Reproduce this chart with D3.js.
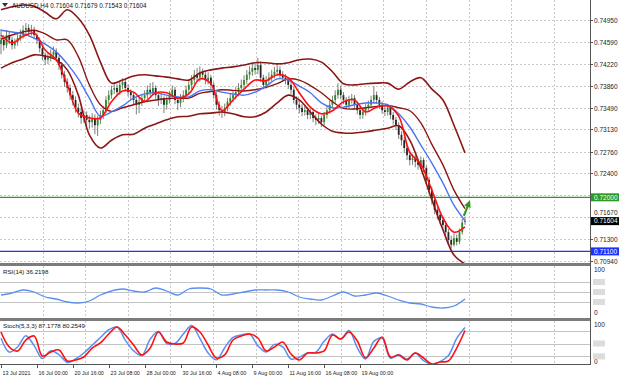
<!DOCTYPE html>
<html>
<head>
<meta charset="utf-8">
<script src="https://cdn.jsdelivr.net/npm/d3@7"></script>
<style>
  body { margin: 0; background: #fff; }
  svg { display: block; }
  text { font-family: "Liberation Sans", Arial, sans-serif; }
</style>
</head>
<body>
<svg id="chart" width="620" height="382"></svg>
<script>
// AUDUSD H4 candles (one entry per bar)
const opens = [
  0.7455, 0.7462, 0.7453, 0.7470, 0.7462, 0.7453, 0.7458, 0.7465, 0.7470, 0.7478,
  0.7482, 0.7475, 0.7478, 0.7470, 0.7462, 0.7448, 0.7437, 0.7429, 0.7432, 0.7437,
  0.7442, 0.7432, 0.7420, 0.7404, 0.7392, 0.7382, 0.7370, 0.7362, 0.7349, 0.7342,
  0.7332, 0.7337, 0.7329, 0.7325, 0.7332, 0.7320, 0.7329, 0.7337, 0.7345, 0.7362,
  0.7370, 0.7379, 0.7382, 0.7375, 0.7387, 0.7392, 0.7382, 0.7375, 0.7370, 0.7362,
  0.7354, 0.7359, 0.7365, 0.7370, 0.7379, 0.7375, 0.7382, 0.7370, 0.7362, 0.7365,
  0.7354, 0.7362, 0.7370, 0.7379, 0.7362, 0.7357, 0.7365, 0.7370, 0.7379, 0.7387,
  0.7395, 0.7404, 0.7399, 0.7409, 0.7404, 0.7395, 0.7399, 0.7387, 0.7370, 0.7354,
  0.7345, 0.7342, 0.7349, 0.7359, 0.7365, 0.7370, 0.7375, 0.7382, 0.7387, 0.7395,
  0.7404, 0.7409, 0.7415, 0.7412, 0.7420, 0.7399, 0.7387, 0.7395, 0.7399, 0.7404,
  0.7409, 0.7412, 0.7404, 0.7399, 0.7395, 0.7387, 0.7379, 0.7362, 0.7354, 0.7349,
  0.7342, 0.7345, 0.7337, 0.7342, 0.7332, 0.7329, 0.7332, 0.7325, 0.7337, 0.7345,
  0.7354, 0.7362, 0.7370, 0.7379, 0.7370, 0.7362, 0.7354, 0.7362, 0.7365, 0.7354,
  0.7345, 0.7337, 0.7342, 0.7349, 0.7354, 0.7362, 0.7370, 0.7362, 0.7354, 0.7345,
  0.7342, 0.7349, 0.7337, 0.7329, 0.7320, 0.7304, 0.7295, 0.7282, 0.7270, 0.7262,
  0.7265, 0.7259, 0.7254, 0.7262, 0.7249, 0.7229, 0.7212, 0.7196, 0.7179, 0.7171,
  0.7162, 0.7154, 0.7142, 0.7129, 0.7121, 0.7132, 0.7126, 0.7142, 0.71604
];
const highs = [
  0.7480, 0.7470, 0.7478, 0.7476, 0.7467, 0.7464, 0.7472, 0.7479, 0.7486, 0.7490,
  0.7488, 0.7487, 0.7484, 0.7474, 0.7466, 0.7452, 0.7441, 0.7440, 0.7446, 0.7451,
  0.7448, 0.7436, 0.7425, 0.7410, 0.7398, 0.7388, 0.7377, 0.7368, 0.7356, 0.7348,
  0.7345, 0.7343, 0.7336, 0.7340, 0.7338, 0.7336, 0.7344, 0.7352, 0.7368, 0.7378,
  0.7386, 0.7390, 0.7388, 0.7394, 0.7398, 0.7396, 0.7388, 0.7380, 0.7374, 0.7366,
  0.7365, 0.7372, 0.7378, 0.7386, 0.7390, 0.7392, 0.7386, 0.7374, 0.7372, 0.7368,
  0.7368, 0.7377, 0.7386, 0.7384, 0.7368, 0.7372, 0.7378, 0.7386, 0.7394, 0.7403,
  0.7412, 0.7415, 0.7418, 0.7414, 0.7410, 0.7408, 0.7404, 0.7392, 0.7375, 0.7360,
  0.7352, 0.7356, 0.7365, 0.7372, 0.7378, 0.7384, 0.7390, 0.7396, 0.7403, 0.7412,
  0.7418, 0.7425, 0.7422, 0.7432, 0.7426, 0.7404, 0.7402, 0.7408, 0.7412, 0.7417,
  0.7420, 0.7418, 0.7410, 0.7405, 0.7400, 0.7392, 0.7384, 0.7368, 0.7360, 0.7355,
  0.7352, 0.7350, 0.7348, 0.7346, 0.7338, 0.7339, 0.7336, 0.7342, 0.7352, 0.7361,
  0.7369, 0.7378, 0.7390, 0.7386, 0.7375, 0.7367, 0.7369, 0.7372, 0.7370, 0.7359,
  0.7350, 0.7348, 0.7355, 0.7361, 0.7369, 0.7385, 0.7376, 0.7367, 0.7359, 0.7351,
  0.7355, 0.7353, 0.7342, 0.7334, 0.7325, 0.7310, 0.7300, 0.7287, 0.7276, 0.7272,
  0.7270, 0.7264, 0.7268, 0.7266, 0.7253, 0.7234, 0.7218, 0.7202, 0.7186, 0.7176,
  0.7168, 0.7160, 0.7147, 0.7136, 0.7140, 0.7138, 0.7148, 0.7164, 0.71679
];
const lows = [
  0.7438, 0.7444, 0.7448, 0.7455, 0.7446, 0.7447, 0.7452, 0.7460, 0.7464, 0.7471,
  0.7468, 0.7469, 0.7463, 0.7455, 0.7441, 0.7428, 0.7420, 0.7422, 0.7426, 0.7431,
  0.7426, 0.7412, 0.7398, 0.7384, 0.7374, 0.7362, 0.7353, 0.7341, 0.7333, 0.7322,
  0.7324, 0.7318, 0.7314, 0.7316, 0.7305, 0.7302, 0.7322, 0.7330, 0.7340, 0.7355,
  0.7364, 0.7372, 0.7368, 0.7370, 0.7380, 0.7376, 0.7368, 0.7362, 0.7355, 0.7338,
  0.7340, 0.7352, 0.7358, 0.7364, 0.7369, 0.7370, 0.7364, 0.7352, 0.7355, 0.7340,
  0.7346, 0.7356, 0.7364, 0.7355, 0.7345, 0.7350, 0.7358, 0.7364, 0.7372, 0.7380,
  0.7388, 0.7393, 0.7392, 0.7396, 0.7388, 0.7388, 0.7380, 0.7364, 0.7346, 0.7336,
  0.7332, 0.7335, 0.7343, 0.7352, 0.7358, 0.7363, 0.7368, 0.7375, 0.7380, 0.7388,
  0.7396, 0.7402, 0.7404, 0.7405, 0.7392, 0.7380, 0.7381, 0.7388, 0.7393, 0.7398,
  0.7402, 0.7398, 0.7392, 0.7388, 0.7380, 0.7372, 0.7356, 0.7346, 0.7340, 0.7335,
  0.7336, 0.7330, 0.7330, 0.7325, 0.7320, 0.7322, 0.7317, 0.7320, 0.7331, 0.7340,
  0.7348, 0.7356, 0.7364, 0.7363, 0.7355, 0.7347, 0.7348, 0.7356, 0.7348, 0.7338,
  0.7330, 0.7331, 0.7336, 0.7343, 0.7348, 0.7356, 0.7356, 0.7347, 0.7339, 0.7335,
  0.7336, 0.7330, 0.7321, 0.7312, 0.7297, 0.7286, 0.7274, 0.7262, 0.7253, 0.7254,
  0.7250, 0.7246, 0.7248, 0.7242, 0.7222, 0.7205, 0.7188, 0.7172, 0.7163, 0.7155,
  0.7146, 0.7135, 0.7122, 0.7115, 0.7118, 0.7120, 0.7122, 0.7138, 0.71543
];
const closes = [
  0.7462, 0.7453, 0.7470, 0.7462, 0.7453, 0.7458, 0.7465, 0.7470, 0.7478, 0.7482,
  0.7475, 0.7478, 0.7470, 0.7462, 0.7448, 0.7437, 0.7429, 0.7432, 0.7437, 0.7442,
  0.7432, 0.7420, 0.7404, 0.7392, 0.7382, 0.7370, 0.7362, 0.7349, 0.7342, 0.7332,
  0.7337, 0.7329, 0.7325, 0.7332, 0.7320, 0.7329, 0.7337, 0.7345, 0.7362, 0.7370,
  0.7379, 0.7382, 0.7375, 0.7387, 0.7392, 0.7382, 0.7375, 0.7370, 0.7362, 0.7354,
  0.7359, 0.7365, 0.7370, 0.7379, 0.7375, 0.7382, 0.7370, 0.7362, 0.7365, 0.7354,
  0.7362, 0.7370, 0.7379, 0.7362, 0.7357, 0.7365, 0.7370, 0.7379, 0.7387, 0.7395,
  0.7404, 0.7399, 0.7409, 0.7404, 0.7395, 0.7399, 0.7387, 0.7370, 0.7354, 0.7345,
  0.7342, 0.7349, 0.7359, 0.7365, 0.7370, 0.7375, 0.7382, 0.7387, 0.7395, 0.7404,
  0.7409, 0.7415, 0.7412, 0.7420, 0.7399, 0.7387, 0.7395, 0.7399, 0.7404, 0.7409,
  0.7412, 0.7404, 0.7399, 0.7395, 0.7387, 0.7379, 0.7362, 0.7354, 0.7349, 0.7342,
  0.7345, 0.7337, 0.7342, 0.7332, 0.7329, 0.7332, 0.7325, 0.7337, 0.7345, 0.7354,
  0.7362, 0.7370, 0.7379, 0.7370, 0.7362, 0.7354, 0.7362, 0.7365, 0.7354, 0.7345,
  0.7337, 0.7342, 0.7349, 0.7354, 0.7362, 0.7370, 0.7362, 0.7354, 0.7345, 0.7342,
  0.7349, 0.7337, 0.7329, 0.7320, 0.7304, 0.7295, 0.7282, 0.7270, 0.7262, 0.7265,
  0.7259, 0.7254, 0.7262, 0.7249, 0.7229, 0.7212, 0.7196, 0.7179, 0.7171, 0.7162,
  0.7154, 0.7142, 0.7129, 0.7121, 0.7132, 0.7126, 0.7142, 0.7158, 0.71604
];

// indicator lines, one value every LINE_STEP bars
const LINE_STEP = 4;
const bbUpper = [
  0.7512, 0.7517, 0.7520, 0.7518, 0.7508, 0.7497, 0.7512, 0.7498, 0.7470, 0.7425,
  0.7390, 0.7395, 0.7402, 0.7404, 0.7402, 0.7400, 0.7397, 0.7395, 0.7407, 0.7412,
  0.7415, 0.7417, 0.7420, 0.7424, 0.7424, 0.7422, 0.7424, 0.7429, 0.7430, 0.7425,
  0.7409, 0.7389, 0.7387, 0.7389, 0.7390, 0.7390, 0.7380, 0.7392, 0.7399, 0.7380,
  0.7362, 0.7320, 0.7274
];
const bbMiddle = [
  0.7463, 0.7470, 0.7475, 0.7478, 0.7472, 0.7462, 0.7462, 0.7434, 0.7387, 0.7354,
  0.7343, 0.7349, 0.7354, 0.7359, 0.7362, 0.7364, 0.7365, 0.7365, 0.7373, 0.7376,
  0.7379, 0.7378, 0.7377, 0.7379, 0.7383, 0.7389, 0.7397, 0.7395, 0.7386, 0.7374,
  0.7359, 0.7348, 0.7347, 0.7349, 0.7351, 0.7353, 0.7349, 0.7344, 0.7324, 0.7288,
  0.7254, 0.7212, 0.7181
];
const bbLower = [
  0.7415, 0.7424, 0.7430, 0.7437, 0.7435, 0.7429, 0.7412, 0.7370, 0.7304, 0.7282,
  0.7295, 0.7304, 0.7305, 0.7315, 0.7322, 0.7329, 0.7334, 0.7335, 0.7339, 0.7340,
  0.7342, 0.7339, 0.7334, 0.7334, 0.7342, 0.7357, 0.7370, 0.7362, 0.7342, 0.7322,
  0.7310, 0.7307, 0.7307, 0.7309, 0.7312, 0.7315, 0.7319, 0.7295, 0.7249, 0.7196,
  0.7146, 0.7104, 0.7089
];
const maBlue = [
  0.7478, 0.7475, 0.7472, 0.7465, 0.7455, 0.7442, 0.7422, 0.7397, 0.7365, 0.7335,
  0.7342, 0.7352, 0.7365, 0.7372, 0.7374, 0.7370, 0.7367, 0.7367, 0.7377, 0.7379,
  0.7375, 0.7372, 0.7370, 0.7375, 0.7385, 0.7397, 0.7395, 0.7385, 0.7374, 0.7357,
  0.7349, 0.7350, 0.7354, 0.7357, 0.7357, 0.7354, 0.7339, 0.7317, 0.7287, 0.7257,
  0.7224, 0.7187, 0.7161
];
const maRed = [
  0.7470, 0.7457, 0.7468, 0.7473, 0.7445, 0.7429, 0.7387, 0.7340, 0.7332, 0.7332,
  0.7359, 0.7377, 0.7375, 0.7360, 0.7374, 0.7374, 0.7365, 0.7372, 0.7397, 0.7389,
  0.7344, 0.7362, 0.7380, 0.7395, 0.7394, 0.7404, 0.7399, 0.7374, 0.7350, 0.7339,
  0.7344, 0.7359, 0.7362, 0.7342, 0.7350, 0.7352, 0.7335, 0.7275, 0.7255, 0.7212,
  0.7166, 0.7142, 0.7151
];
const rsi = [
  44, 48, 54, 50, 40, 36, 30, 28, 32, 44,
  52, 56, 52, 50, 58, 52, 44, 56, 58, 56,
  44, 46, 50, 54, 54, 54, 50, 40, 36, 34,
  42, 50, 42, 44, 48, 42, 34, 28, 26, 20,
  18, 22, 36.22
];

// stochastic, one value every STOCH_STEP bars
const STOCH_STEP = 3;
const stochMain = [
  62, 30, 42, 68, 45, 15, 33, 24, 6, 14,
  28, 46, 64, 82, 88, 58, 33, 22, 60, 78,
  50, 50, 72, 92, 62, 28, 12, 40, 64, 70,
  72, 45, 30, 48, 42, 14, 18, 28, 30, 55,
  72, 60, 80, 40, 14, 55, 62, 16, 24, 14,
  28, 10, 2, 8, 22, 62, 87.18
];
const stochSignal = [
  76.7, 41.9, 32.6, 58.1, 67.4, 20.9, 30.2, 34.9, 9.3, 11.6,
  18.6, 39.5, 51.2, 72.1, 88.4, 69.8, 46.5, 23.3, 39.5, 76.7,
  53.5, 48.8, 51.2, 88.4, 76.7, 46.5, 16.3, 23.3, 58.1, 67.4,
  72.1, 62.8, 32.6, 41.9, 53.5, 25.6, 11.6, 27.9, 27.9, 32.6,
  69.8, 60.5, 76.7, 55.8, 16.3, 39.5, 65.1, 18.6, 23.3, 11.6,
  27.9, 16.3, 2.0, 7.0, 9.3, 39.5, 80.25
];

const priceTicks = [0.7495, 0.7459, 0.7422, 0.7386, 0.7349, 0.7313, 0.7276, 0.7240, 0.7204, 0.7167, 0.7130, 0.7094];
const timeLabels = ["13 Jul 2021", "16 Jul 00:00", "20 Jul 16:00", "23 Jul 08:00", "28 Jul 00:00",
                    "30 Jul 16:00", "4 Aug 08:00", "9 Aug 00:00", "11 Aug 16:00", "16 Aug 08:00", "19 Aug 00:00"];
const TIME_LABEL_STEP = 13;   // bars between time labels
const rsiLevels = [70, 50, 30];
const stochLevels = [80, 50, 20];
const hLevels = [
  { price: 0.72000, color: "#2f9a22", label: "0.72000" },
  { price: 0.71100, color: "#1f2fff", label: "0.71100" }
];
const lastPrice = 0.71604;
const arrow = { from: [167.6, 0.7169], to: [169.8, 0.7195] };

// ---- layout ----
const svg = d3.select("#chart");
const AXIS_X = 590;
const MAIN = { top: 0, bottom: 263 };
const RSI_P = { top: 266, bottom: 318 };
const STO_P = { top: 321, bottom: 364 };

const x = d3.scaleLinear().domain([0, closes.length - 1]).range([1, 465]);
const y = d3.scaleLinear().domain([0.70907, 0.75283]).range([MAIN.bottom, MAIN.top]);
const yRsi = d3.scaleLinear().domain([0, 100]).range([317, 267]);
const ySto = d3.scaleLinear().domain([0, 100]).range([365, 322]);

const defs = svg.append("defs");
function clip(id, p) {
  defs.append("clipPath").attr("id", id)
    .append("rect").attr("x", 0).attr("y", p.top).attr("width", AXIS_X).attr("height", p.bottom - p.top);
}
clip("clipMain", MAIN);
clip("clipRsi", RSI_P);
clip("clipSto", STO_P);

// ---- grid ----
const grid = svg.append("g").attr("stroke", "#c9c9c9").attr("stroke-dasharray", "2,2").attr("stroke-width", 1);
d3.range(42.6, AXIS_X, 42.6).forEach(gx => {
  [MAIN, RSI_P, STO_P].forEach(p => {
    grid.append("line").attr("x1", Math.round(gx) + 0.5).attr("x2", Math.round(gx) + 0.5)
      .attr("y1", p.top).attr("y2", p.bottom);
  });
});
priceTicks.forEach(t => {
  const gy = Math.round(y(t)) + 0.5;
  grid.append("line").attr("x1", 0).attr("x2", AXIS_X).attr("y1", gy).attr("y2", gy);
});

// indicator levels
rsiLevels.forEach(v => {
  svg.append("line").attr("x1", 0).attr("x2", AXIS_X)
    .attr("y1", Math.round(yRsi(v)) + 0.5).attr("y2", Math.round(yRsi(v)) + 0.5)
    .attr("stroke", "#c4c4c4");
});
stochLevels.forEach(v => {
  svg.append("line").attr("x1", 0).attr("x2", AXIS_X)
    .attr("y1", Math.round(ySto(v)) + 0.5).attr("y2", Math.round(ySto(v)) + 0.5)
    .attr("stroke", "#c4c4c4");
});

// ---- main panel ----
const main = svg.append("g").attr("clip-path", "url(#clipMain)");

// horizontal levels
hLevels.forEach(l => {
  main.append("line").attr("x1", 0).attr("x2", AXIS_X)
    .attr("y1", y(l.price)).attr("y2", y(l.price))
    .attr("stroke", l.color).attr("stroke-width", 1.3);
});

// candles
const candles = main.append("g");
closes.forEach((c, i) => {
  const o = opens[i];
  const cx = x(i);
  candles.append("line").attr("x1", cx).attr("x2", cx)
    .attr("y1", y(highs[i])).attr("y2", y(lows[i]))
    .attr("stroke", "#6f6f6f").attr("stroke-width", 0.9);
  const top = y(Math.max(o, c)), bot = y(Math.min(o, c));
  candles.append("rect").attr("x", cx - 0.9).attr("width", 1.8)
    .attr("y", top).attr("height", Math.max(1, bot - top))
    .attr("fill", c >= o ? "#2d8a23" : "#262626");
});

function drawLine(g, values, step, yScale, color, width) {
  const line = d3.line()
    .x((d, i) => x(i * step))
    .y(d => yScale(d))
    .curve(d3.curveCatmullRom.alpha(0.5));
  g.append("path").datum(values)
    .attr("d", line).attr("fill", "none")
    .attr("stroke", color).attr("stroke-width", width)
    .attr("stroke-linejoin", "round");
}

drawLine(main, bbUpper, LINE_STEP, y, "#8c1616", 1.6);
drawLine(main, bbLower, LINE_STEP, y, "#8c1616", 1.6);
drawLine(main, bbMiddle, LINE_STEP, y, "#8c1616", 1.4);
drawLine(main, maBlue, LINE_STEP, y, "#4b74f0", 1.4);
drawLine(main, maRed, LINE_STEP, y, "#ff1010", 1.6);

// green arrow at the last bar
const ax1 = x(arrow.from[0]), ay1 = y(arrow.from[1]);
const ax2 = x(arrow.to[0]), ay2 = y(arrow.to[1]);
const ang = Math.atan2(ay2 - ay1, ax2 - ax1);
main.append("line").attr("x1", ax1).attr("y1", ay1)
  .attr("x2", ax2 - 4 * Math.cos(ang)).attr("y2", ay2 - 4 * Math.sin(ang))
  .attr("stroke", "#2f9a22").attr("stroke-width", 2.2);
const head = [[ax2, ay2],
  [ax2 - 7 * Math.cos(ang) + 3.5 * Math.sin(ang), ay2 - 7 * Math.sin(ang) - 3.5 * Math.cos(ang)],
  [ax2 - 7 * Math.cos(ang) - 3.5 * Math.sin(ang), ay2 - 7 * Math.sin(ang) + 3.5 * Math.cos(ang)]];
main.append("path").attr("d", "M" + head.join("L") + "Z").attr("fill", "#2f9a22");

// ---- RSI panel ----
const rsiG = svg.append("g").attr("clip-path", "url(#clipRsi)");
drawLine(rsiG, rsi, LINE_STEP, yRsi, "#5a8ff2", 1.3);

// ---- Stochastic panel ----
const stoG = svg.append("g").attr("clip-path", "url(#clipSto)");
drawLine(stoG, stochMain, STOCH_STEP, ySto, "#5a8ff2", 1.5);
drawLine(stoG, stochSignal, STOCH_STEP, ySto, "#ff1010", 1.6);

// ---- frames and separators ----
svg.append("rect").attr("x", 0).attr("y", MAIN.bottom).attr("width", AXIS_X).attr("height", RSI_P.top - MAIN.bottom).attr("fill", "#7c7c7c");
svg.append("rect").attr("x", 0).attr("y", RSI_P.bottom).attr("width", AXIS_X).attr("height", STO_P.top - RSI_P.bottom).attr("fill", "#7c7c7c");
svg.append("line").attr("x1", 0).attr("x2", AXIS_X + 0.5).attr("y1", STO_P.bottom + 0.5).attr("y2", STO_P.bottom + 0.5).attr("stroke", "#555");
svg.append("line").attr("x1", AXIS_X + 0.5).attr("x2", AXIS_X + 0.5).attr("y1", 0).attr("y2", STO_P.bottom + 1).attr("stroke", "#555");

// ---- price axis ----
const tagYs = hLevels.map(l => y(l.price)).concat([y(lastPrice)]);
const axisG = svg.append("g").attr("font-size", 6.5).attr("fill", "#222");
priceTicks.forEach(t => {
  const ty = Math.round(y(t)) + 0.5;
  axisG.append("line").attr("x1", AXIS_X).attr("x2", AXIS_X + 3).attr("y1", ty).attr("y2", ty).attr("stroke", "#555");
  // labels sitting under a price tag are hidden, near ones are pushed clear of it
  const near = tagYs.find(g => Math.abs(g - ty) < 8);
  if (near !== undefined && Math.abs(near - ty) < 2) return;
  const ly = near === undefined ? ty : (ty < near ? near - 8 : near + 8);
  axisG.append("text").attr("x", AXIS_X + 4).attr("y", ly).attr("dy", "0.35em").text(d3.format(".5f")(t));
});

function priceTag(price, color, label) {
  const ty = y(price);
  svg.append("rect").attr("x", AXIS_X + 1).attr("y", ty - 4).attr("width", 28).attr("height", 8).attr("fill", color);
  svg.append("text").attr("x", AXIS_X + 4).attr("y", ty).attr("dy", "0.35em")
    .attr("font-size", 6.5).attr("fill", "#fff").text(label);
}
hLevels.forEach(l => priceTag(l.price, l.color, l.label));
priceTag(lastPrice, "#000", d3.format(".5f")(lastPrice));

// indicator scales on the right
function sideScale(yScale, levels, topLabelY, bottomLabelY) {
  axisG.append("text").attr("x", AXIS_X + 4).attr("y", topLabelY).attr("dy", "0.35em").text("100");
  axisG.append("text").attr("x", AXIS_X + 4).attr("y", bottomLabelY).attr("dy", "0.35em").text("0");
  levels.forEach(v => {
    svg.append("rect").attr("x", AXIS_X + 3).attr("y", yScale(v) - 3).attr("width", 12).attr("height", 6).attr("fill", "#dcdcdc");
  });
}
sideScale(yRsi, rsiLevels, 270, 313);
sideScale(ySto, [50, 20], 325, 362);

// ---- time axis ----
const timeG = svg.append("g").attr("font-size", 5.4).attr("fill", "#222");
timeLabels.forEach((lbl, k) => {
  const tx = Math.round(x(k * TIME_LABEL_STEP)) + 0.5;
  timeG.append("line").attr("x1", tx).attr("x2", tx).attr("y1", STO_P.bottom).attr("y2", STO_P.bottom + 4).attr("stroke", "#555");
  timeG.append("text").attr("x", tx + 1).attr("y", 375).text(lbl);
});

// ---- titles ----
svg.append("path").attr("d", "M2,3 L8,3 L5,7 Z").attr("fill", "#333");
svg.append("text").attr("x", 12).attr("y", 8).attr("font-size", 6.3).attr("fill", "#111")
  .text("AUDUSD,H4 0.71604 0.71679 0.71543 0.71604");
svg.append("text").attr("x", 3).attr("y", 274).attr("font-size", 6.2).attr("fill", "#111")
  .text("RSI(14) 36.2198");
svg.append("text").attr("x", 3).attr("y", 328).attr("font-size", 6.2).attr("fill", "#111")
  .text("Stoch(5,3,3) 87.1778 80.2549");
</script>
</body>
</html>
